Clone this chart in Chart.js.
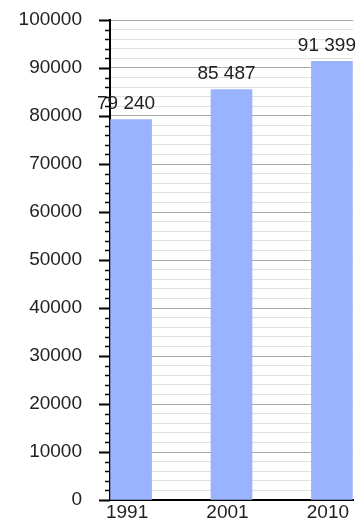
<!DOCTYPE html>
<html lang="fr">
<head>
  <meta charset="UTF-8" />
  <title>Population</title>
  <script src="https://cdn.jsdelivr.net/npm/chart.js"></script>
  <style>
    html, body { margin: 0; padding: 0; background: #fff; }
  </style>
</head>
<body>
  <canvas id="popChart" width="362" height="523"></canvas>

  <script>
    // données
    const years = ['1991', '2001', '2010'];
    const population = [79240, 85487, 91399];
    const yTicksMajor = [0, 10000, 20000, 30000, 40000, 50000, 60000, 70000, 80000, 90000, 100000];

    const FONT = { family: '"Liberation Sans", Arial, sans-serif', size: 19 };

    const fmt = v => String(v).replace(/\B(?=(\d{3})+(?!\d))/g, ' ');

    // petits traits sur l'axe Y (longs pour les graduations principales)
    const tickMarks = {
      id: 'tickMarks',
      afterDraw(chart) {
        const y = chart.scales.y;
        const c = chart.ctx;
        const x0 = chart.chartArea.left;
        c.save();
        c.strokeStyle = '#000';
        y.ticks.forEach(t => {
          const py = Math.round(y.getPixelForValue(t.value)) + 0.5;
          const major = yTicksMajor.includes(t.value);
          c.lineWidth = major ? 2 : 1.5;
          c.beginPath();
          c.moveTo(x0 - (major ? 11 : 5), py);
          c.lineTo(x0, py);
          c.stroke();
        });
        c.restore();
      }
    };

    // valeurs au-dessus des barres
    const barValues = {
      id: 'barValues',
      afterDatasetsDraw(chart) {
        const c = chart.ctx;
        const meta = chart.getDatasetMeta(0);
        c.save();
        c.font = `${FONT.size}px ${FONT.family}`;
        c.fillStyle = '#222';
        c.textAlign = 'center';
        c.textBaseline = 'bottom';
        meta.data.forEach((bar, i) => {
          c.fillText(fmt(population[i]), bar.x - 5, bar.y - 6);
        });
        c.restore();
      }
    };

    new Chart(document.getElementById('popChart'), {
      type: 'bar',
      data: {
        datasets: [{
          data: population.map((v, i) => ({ x: i, y: v })),
          backgroundColor: '#99b3ff',
          borderWidth: 0,
          barThickness: 41
        }]
      },
      options: {
        responsive: false,
        animation: false,
        layout: { padding: { top: 20, right: 9, bottom: 0, left: 0 } },
        plugins: { legend: { display: false }, tooltip: { enabled: false } },
        scales: {
          x: {
            type: 'linear',
            min: -0.21,
            max: 2.21,
            offset: false,
            afterBuildTicks: s => { s.ticks = years.map((_, i) => ({ value: i })); },
            afterFit: s => { s.height = 23; s.paddingLeft = 0; s.paddingRight = 0; },
            grid: { display: false, drawTicks: false },
            border: { display: true, color: '#000', width: 2 },
            ticks: {
              font: FONT,
              color: '#222',
              padding: 1,
              labelOffset: -4,
              autoSkip: false,
              maxRotation: 0,
              callback: v => years[v]
            }
          },
          y: {
            min: 0,
            max: 100000,
            afterFit: s => { s.width = 110; s.paddingTop = 0; s.paddingBottom = 0; },
            grid: {
              drawTicks: false,
              color: ctx => yTicksMajor.includes(ctx.tick.value) ? '#a8a8a8' : '#e0e0e0',
              lineWidth: 1
            },
            border: { display: true, color: '#000', width: 2 },
            ticks: {
              stepSize: 2000,
              autoSkip: false,
              font: FONT,
              color: '#222',
              padding: 28,
              callback: v => yTicksMajor.includes(v) ? String(v) : ''
            }
          }
        }
      },
      plugins: [tickMarks, barValues]
    });
  </script>
</body>
</html>
